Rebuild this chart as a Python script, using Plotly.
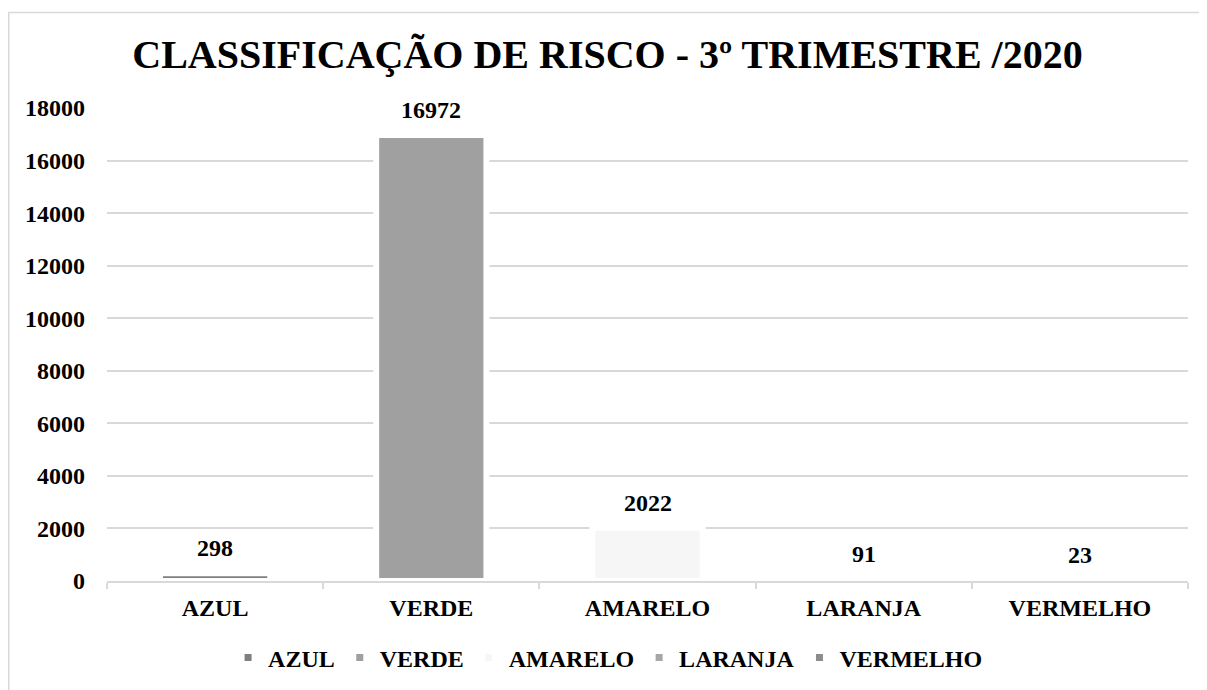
import plotly.graph_objects as go

categories = ["AZUL", "VERDE", "AMARELO", "LARANJA", "VERMELHO"]
values = [298, 16972, 2022, 91, 23]
colors = ["#7f7f7f", "#a0a0a0", "#f6f6f6", "#a6a6a6", "#8c8c8c"]
y_ticks = [0, 2000, 4000, 6000, 8000, 10000, 12000, 14000, 16000, 18000]
title_text = "CLASSIFICAÇÃO DE RISCO - 3º TRIMESTRE /2020"

FONT = "Liberation Serif, Times New Roman, serif"

W, H = 1199, 682
L, R, T, B = 99, 19, 100.3, 109.3
plot_h = H - T - B

fig = go.Figure()
for cat, val, col in zip(categories, values, colors):
    fig.add_trace(go.Bar(
        x=[cat], y=[val], name=cat,
        marker=dict(color=col, line=dict(color="white", width=6)),
        hoverinfo="x+y",
    ))

for cat, val in zip(categories, values):
    fig.add_annotation(
        x=cat, y=val, text=str(val), showarrow=False,
        yanchor="middle", yshift=25,
        font=dict(family=FONT, size=24, color="black", weight="bold"),
    )

fig.update_layout(
    width=W, height=H,
    margin=dict(l=L, r=R, t=T, b=B),
    paper_bgcolor="white", plot_bgcolor="white",
    barmode="overlay", bargap=0.49,
    title=dict(text=title_text, x=0.5, xanchor="center",
               y=1 - 45.5 / H, yanchor="middle",
               font=dict(family=FONT, size=40, color="black", weight="bold")),
    font=dict(family=FONT, color="black"),
    showlegend=True,
    legend=dict(orientation="h", x=0.112, xanchor="left",
                yref="container", y=1 - 650 / H, yanchor="middle",
                font=dict(family=FONT, size=24, color="black", weight="bold"),
                bgcolor="rgba(0,0,0,0)"),
    xaxis=dict(categoryorder="array", categoryarray=categories,
               showgrid=False, showline=True, linecolor="#d9d9d9", linewidth=1.5,
               ticks="outside", tickson="boundaries", ticklen=6,
               tickcolor="#d9d9d9", tickwidth=1.5,
               tickfont=dict(family=FONT, size=24, color="black", weight="bold"),
               ticklabelstandoff=4),
    yaxis=dict(range=[0, 18000], tickvals=y_ticks, tickformat="d",
               showgrid=True, gridcolor="#d9d9d9", gridwidth=1.5,
               zeroline=False, showline=False,
               tickfont=dict(family=FONT, size=24, color="black", weight="bold"),
               ticklabelstandoff=21),
    shapes=[dict(type="rect", xref="paper", yref="paper",
                 x0=(0.75 - L) / (W - L - R), x1=1.2,
                 y0=-0.5, y1=(H - B - 5) / plot_h,
                 line=dict(color="#d9d9d9", width=1.5), fillcolor="rgba(0,0,0,0)",
                 layer="below")],
)

fig.write_html("out.html")
